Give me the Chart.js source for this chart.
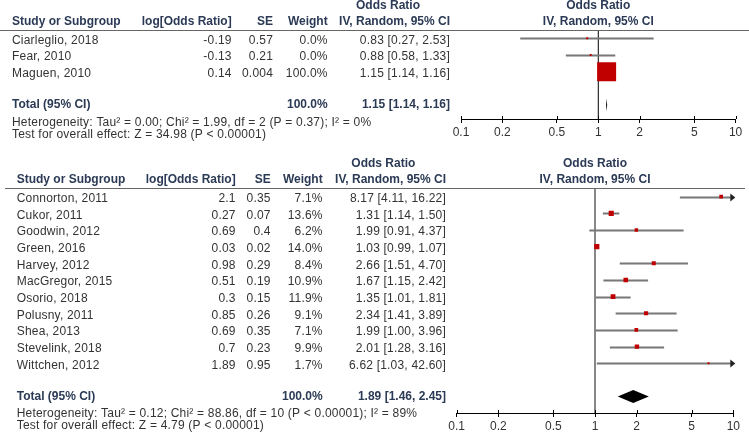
<!DOCTYPE html>
<html>
<head>
<meta charset="utf-8">
<script src="https://cdn.jsdelivr.net/npm/chart.js@4.4.0/dist/chart.umd.min.js"></script>
<style>
  body { margin: 0; background: #fff; }
  #wrap { position: relative; width: 749px; height: 439px; }
  canvas { position: absolute; left: 0; }
</style>
</head>
<body>
<div id="wrap">
  <canvas id="topChart" width="749" height="145" style="top:0"></canvas>
  <canvas id="bottomChart" width="749" height="294" style="top:145px"></canvas>
</div>
<script>
// x axis (odds ratio, log scale)
const tickValues = [0.1, 0.2, 0.5, 1, 2, 5, 10];
const tickLabels = ['0.1', '0.2', '0.5', '1', '2', '5', '10'];

// first subgroup
const studiesA = ['Ciarleglio, 2018', 'Fear, 2010', 'Maguen, 2010'];
const logOrA = [-0.19, -0.13, 0.14];
const seA = [0.57, 0.21, 0.004];
const weightA = [0.0, 0.0, 100.0];
const orA = [0.83, 0.88, 1.15];
const loA = [0.27, 0.58, 1.14];
const hiA = [2.53, 1.33, 1.16];
const totalA = [1.15, 1.14, 1.16];
const hetA = 'Heterogeneity: Tau\u00b2 = 0.00; Chi\u00b2 = 1.99, df = 2 (P = 0.37); I\u00b2 = 0%';
const testA = 'Test for overall effect: Z = 34.98 (P < 0.00001)';

// second subgroup
const studiesB = ['Connorton, 2011', 'Cukor, 2011', 'Goodwin, 2012', 'Green, 2016', 'Harvey, 2012',
  'MacGregor, 2015', 'Osorio, 2018', 'Polusny, 2011', 'Shea, 2013', 'Stevelink, 2018', 'Wittchen, 2012'];
const logOrB = [2.1, 0.27, 0.69, 0.03, 0.98, 0.51, 0.3, 0.85, 0.69, 0.7, 1.89];
const seB = [0.35, 0.07, 0.4, 0.02, 0.29, 0.19, 0.15, 0.26, 0.35, 0.23, 0.95];
const weightB = [7.1, 13.6, 6.2, 14.0, 8.4, 10.9, 11.9, 9.1, 7.1, 9.9, 1.7];
const orB = [8.17, 1.31, 1.99, 1.03, 2.66, 1.67, 1.35, 2.34, 1.99, 2.01, 6.62];
const loB = [4.11, 1.14, 0.91, 0.99, 1.51, 1.15, 1.01, 1.41, 1.00, 1.28, 1.03];
const hiB = [16.22, 1.50, 4.37, 1.07, 4.70, 2.42, 1.81, 3.89, 3.96, 3.16, 42.60];
const totalB = [1.89, 1.46, 2.45];
const hetB = 'Heterogeneity: Tau\u00b2 = 0.12; Chi\u00b2 = 88.86, df = 10 (P < 0.00001); I\u00b2 = 89%';
const testB = 'Test for overall effect: Z = 4.79 (P < 0.00001)';

const FONT = '"Liberation Sans", Arial, sans-serif';
const HEAD = '#2b3a55';
const TEXT = '#333';
const RED = '#c00000';

function line(ctx, x0, y0, x1, y1) {
  ctx.beginPath(); ctx.moveTo(x0, y0); ctx.lineTo(x1, y1); ctx.stroke();
}

function ciText(o, l, h) {
  return o.toFixed(2) + ' [' + l.toFixed(2) + ', ' + h.toFixed(2) + ']';
}

function forest(id, d, lay) {
  const n = d.studies.length;
  const sides = d.weight.map(w => Math.max(2, lay.sqMax * Math.sqrt(w / lay.wMax)));

  const forestPlugin = {
    id: 'forest',
    beforeDatasetsDraw(chart) {
      const { ctx, chartArea: a, scales: { x, y } } = chart;
      ctx.save();
      // line of no effect
      const x1 = x.getPixelForValue(1);
      ctx.strokeStyle = lay.vColor;
      ctx.lineWidth = lay.vWidth;
      line(ctx, x1, a.top, x1, a.bottom);
      // confidence intervals
      ctx.strokeStyle = '#777';
      ctx.lineWidth = 2;
      d.lo.forEach((lo, i) => {
        const py = Math.round(y.getPixelForValue(i)) + 0.5;
        const xa = x.getPixelForValue(Math.max(lo, x.min));
        const xb = x.getPixelForValue(Math.min(d.hi[i], x.max));
        line(ctx, xa, py, xb, py);
        if (d.hi[i] > x.max) {
          ctx.fillStyle = '#222';
          ctx.beginPath();
          ctx.moveTo(xb + 2, py);
          ctx.lineTo(xb - 3, py - 4);
          ctx.lineTo(xb - 3, py + 4);
          ctx.closePath();
          ctx.fill();
        }
      });
      // pooled estimate diamond
      const ty = y.getPixelForValue(n + 1);
      ctx.fillStyle = '#000';
      ctx.beginPath();
      ctx.moveTo(x.getPixelForValue(d.total[1]), ty);
      ctx.lineTo(x.getPixelForValue(d.total[0]), ty - 6.5);
      ctx.lineTo(x.getPixelForValue(d.total[2]), ty);
      ctx.lineTo(x.getPixelForValue(d.total[0]), ty + 6.5);
      ctx.closePath();
      ctx.fill();
      ctx.restore();
    },
    afterDraw(chart) {
      const { ctx, chartArea: a, scales: { x, y } } = chart;
      ctx.save();
      // upper half of the axis ticks
      ctx.strokeStyle = '#000';
      ctx.lineWidth = 1;
      tickValues.forEach(v => {
        const px = Math.round(x.getPixelForValue(v)) + 0.5;
        line(ctx, px, a.bottom - 3, px, a.bottom);
      });
      // header rule
      ctx.strokeStyle = '#666';
      line(ctx, lay.ruleX0, lay.ruleY + 0.5, lay.ruleX1, lay.ruleY + 0.5);

      const c = lay.cols;
      const put = (t, px, py, align, bold, color) => {
        ctx.font = (bold ? 'bold ' : '') + '12px ' + FONT;
        ctx.letterSpacing = bold ? '0px' : '0.2px';
        ctx.fillStyle = color;
        ctx.textAlign = align;
        ctx.textBaseline = 'middle';
        ctx.fillText(t, px, py);
      };
      // headers
      put('Odds Ratio', lay.orCenter, lay.head1, 'center', true, HEAD);
      put('Study or Subgroup', lay.left, lay.head2, 'left', true, HEAD);
      put('log[Odds Ratio]', c[0], lay.head2, 'right', true, HEAD);
      put('SE', c[1], lay.head2, 'right', true, HEAD);
      put('Weight', c[2], lay.head2, 'right', true, HEAD);
      put('IV, Random, 95% CI', c[3], lay.head2, 'right', true, HEAD);
      const mid = (a.left + a.right) / 2;
      put('Odds Ratio', mid, lay.head1, 'center', true, HEAD);
      put('IV, Random, 95% CI', mid, lay.head2, 'center', true, HEAD);
      // study rows
      d.studies.forEach((s, i) => {
        const py = y.getPixelForValue(i) + 2;
        put(s, lay.left, py, 'left', false, TEXT);
        put(String(d.logOr[i]), c[0], py, 'right', false, TEXT);
        put(String(d.se[i]), c[1], py, 'right', false, TEXT);
        put(d.weight[i].toFixed(1) + '%', c[2], py, 'right', false, TEXT);
        put(ciText(d.or[i], d.lo[i], d.hi[i]), c[3], py, 'right', false, TEXT);
      });
      // total row
      const ty = y.getPixelForValue(n + 1);
      put('Total (95% CI)', lay.left, ty, 'left', true, HEAD);
      put('100.0%', c[2], ty, 'right', true, HEAD);
      put(ciText(d.total[0], d.total[1], d.total[2]), c[3], ty, 'right', true, HEAD);
      put(d.het, lay.left, lay.hetY, 'left', false, TEXT);
      put(d.test, lay.left, lay.testY, 'left', false, TEXT);
      ctx.restore();
    }
  };

  return new Chart(document.getElementById(id), {
    type: 'scatter',
    data: {
      datasets: [{
        data: d.or.map((v, i) => ({ x: v, y: i })),
        pointStyle: 'rect',
        pointRadius: sides.map(s => s / Math.SQRT2),
        backgroundColor: RED,
        borderWidth: 0
      }]
    },
    options: {
      responsive: false,
      animation: false,
      events: [],
      layout: { padding: { left: lay.padLeft, right: lay.padRight, top: lay.top, bottom: 0 } },
      plugins: { legend: { display: false }, tooltip: { enabled: false } },
      scales: {
        x: {
          type: 'logarithmic',
          min: 0.1,
          max: 10,
          afterBuildTicks: s => { s.ticks = tickValues.map(v => ({ value: v })); },
          afterFit: s => { s.height = lay.axisH; },
          ticks: {
            autoSkip: false,
            maxRotation: 0,
            padding: 2,
            color: TEXT,
            font: { family: FONT, size: 12 },
            callback: (v, i) => tickLabels[i]
          },
          grid: { drawOnChartArea: false, tickLength: 4, color: '#000' },
          border: { color: '#000', width: 1 }
        },
        y: { type: 'linear', display: false, reverse: true, min: lay.yMin, max: lay.yMax }
      }
    },
    plugins: [forestPlugin]
  });
}

forest('topChart', {
  studies: studiesA, logOr: logOrA, se: seA, weight: weightA,
  or: orA, lo: loA, hi: hiA, total: totalA, het: hetA, test: testA
}, {
  padLeft: 461, padRight: 12, top: 30, axisH: 26,
  yMin: -0.497, yMax: 4.832,
  left: 12, cols: [231.7, 273, 327.7, 450], orCenter: 388,
  head1: 6, head2: 22, ruleY: 30, ruleX0: 0, ruleX1: 749,
  hetY: 123, testY: 135,
  sqMax: 19, wMax: 100, vColor: '#000', vWidth: 1
});

forest('bottomChart', {
  studies: studiesB, logOr: logOrB, se: seB, weight: weightB,
  or: orB, lo: loB, hi: hiB, total: totalB, het: hetB, test: testB
}, {
  padLeft: 456.7, padRight: 15.7, top: 43, axisH: 26,
  yMin: -0.5225, yMax: 12.99,
  left: 16.7, cols: [235.7, 270.7, 322.7, 446], orCenter: 383.3,
  head1: 18.5, head2: 35, ruleY: 43, ruleX0: 5, ruleX1: 745,
  hetY: 268.5, testY: 280.5,
  sqMax: 5.2, wMax: 14, vColor: '#888', vWidth: 2
});
</script>
</body>
</html>
